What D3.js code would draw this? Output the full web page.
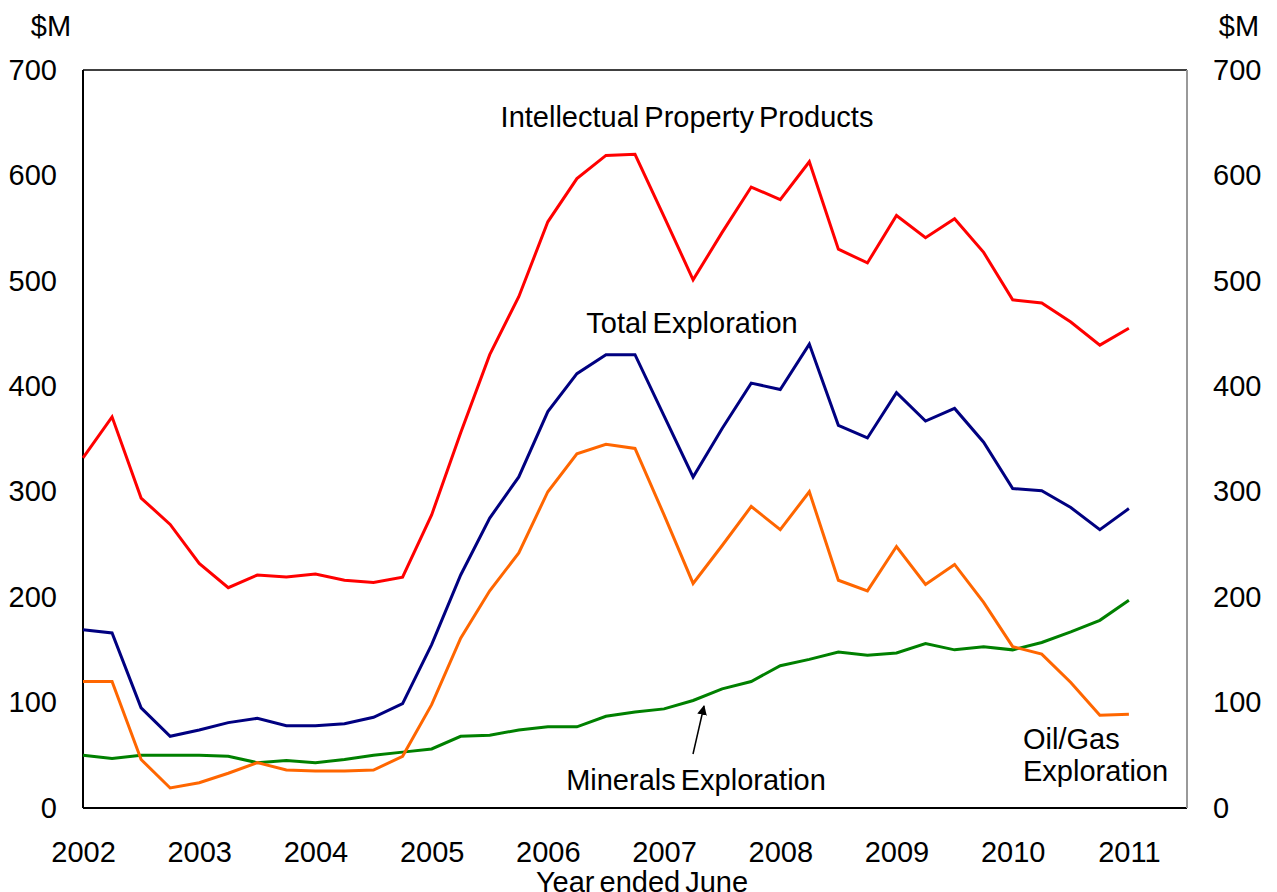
<!DOCTYPE html>
<html>
<head>
<meta charset="utf-8">
<script src="https://cdn.jsdelivr.net/npm/d3@7"></script>
<style>
  body { margin: 0; background: #fff; }
  svg text { font-family: "Liberation Sans", Arial, sans-serif; fill: #000; }
</style>
</head>
<body>
<div id="chart"></div>
<script>
// Quarterly, year ended June
var quarters = [
  "Jun 2002","Sep 2002","Dec 2002","Mar 2003",
  "Jun 2003","Sep 2003","Dec 2003","Mar 2004",
  "Jun 2004","Sep 2004","Dec 2004","Mar 2005",
  "Jun 2005","Sep 2005","Dec 2005","Mar 2006",
  "Jun 2006","Sep 2006","Dec 2006","Mar 2007",
  "Jun 2007","Sep 2007","Dec 2007","Mar 2008",
  "Jun 2008","Sep 2008","Dec 2008","Mar 2009",
  "Jun 2009","Sep 2009","Dec 2009","Mar 2010",
  "Jun 2010","Sep 2010","Dec 2010","Mar 2011",
  "Jun 2011"
];

var ipProducts = [332, 371, 294, 269, 232, 209, 221, 219, 222, 216, 214, 219,
  278, 356, 430, 485, 556, 597, 619, 620, 561, 501, 546, 589, 577, 613,
  530, 517, 562, 541, 559, 527, 482, 479, 461, 439, 455];

var totalExploration = [169, 166, 95, 68, 74, 81, 85, 78, 78, 80, 86, 99,
  155, 221, 275, 314, 376, 412, 430, 430, 372, 314, 360, 403, 397, 440,
  363, 351, 394, 367, 379, 347, 303, 301, 285, 264, 284];

var oilGasExploration = [120, 120, 46, 19, 24, 33, 43, 36, 35, 35, 36, 49,
  98, 161, 206, 242, 300, 336, 345, 341, 278, 213, 249, 286, 264, 300,
  216, 206, 248, 212, 231, 195, 153, 146, 119, 88, 89];

var mineralsExploration = [50, 47, 50, 50, 50, 49, 43, 45, 43, 46, 50, 53,
  56, 68, 69, 74, 77, 77, 87, 91, 94, 102, 113, 120, 135, 141,
  148, 145, 147, 156, 150, 153, 150, 157, 167, 178, 197];

var yTicks = [0, 100, 200, 300, 400, 500, 600, 700];
var xTickIndex = [0, 4, 8, 12, 16, 20, 24, 28, 32, 36];

var margin = { left: 83, right: 90, top: 70, bottom: 84 };
var width = 1277 - margin.left - margin.right,
    height = 892 - margin.top - margin.bottom;

var svg = d3.select("#chart").append("svg")
    .attr("width", 1277)
    .attr("height", 892)
  .append("g")
    .attr("transform", "translate(" + margin.left + "," + margin.top + ")");

var x = d3.scaleLinear().domain([0, 38]).range([0, width]);
var y = d3.scaleLinear().domain([0, 700]).range([height, 0]);

// axes (labels only, no tick marks)
svg.append("g")
    .call(d3.axisLeft(y).tickValues(yTicks).tickSize(0).tickPadding(26));
svg.append("g")
    .attr("transform", "translate(" + width + ",0)")
    .call(d3.axisRight(y).tickValues(yTicks).tickSize(0).tickPadding(26));
svg.append("g")
    .attr("transform", "translate(0," + height + ")")
    .call(d3.axisBottom(x).tickValues(xTickIndex).tickSize(0).tickPadding(33)
      .tickFormat(function(i){ return quarters[i].slice(-4); }));

svg.selectAll(".domain").remove();
svg.selectAll(".tick text").attr("font-size", "29px")
    .attr("font-family", "Liberation Sans, Arial, sans-serif");

// frame
svg.append("line").attr("x1", 0).attr("x2", width).attr("y1", 0).attr("y2", 0)
    .attr("stroke", "#000").attr("stroke-width", 1.5);
svg.append("line").attr("x1", 0).attr("x2", 0).attr("y1", 0).attr("y2", height)
    .attr("stroke", "#000").attr("stroke-width", 2);
svg.append("line").attr("x1", 0).attr("x2", width).attr("y1", height).attr("y2", height)
    .attr("stroke", "#000").attr("stroke-width", 2);
svg.append("line").attr("x1", width).attr("x2", width).attr("y1", 0).attr("y2", height)
    .attr("stroke", "#999").attr("stroke-width", 2);

// units
svg.append("text").attr("x", -32).attr("y", -34).attr("text-anchor", "middle")
    .attr("font-size", "29px").text("$M");
svg.append("text").attr("x", width + 52).attr("y", -34).attr("text-anchor", "middle")
    .attr("font-size", "29px").text("$M");

// lines
var line = d3.line()
    .x(function(d, i){ return x(i); })
    .y(function(d){ return y(d); });

var series = [
  { values: ipProducts, color: "#ff0000" },
  { values: totalExploration, color: "#000080" },
  { values: mineralsExploration, color: "#008000" },
  { values: oilGasExploration, color: "#ff6600" }
];

series.forEach(function(s){
  svg.append("path")
      .datum(s.values)
      .attr("fill", "none")
      .attr("stroke", s.color)
      .attr("stroke-width", 3)
      .attr("stroke-linejoin", "miter")
      .attr("d", line);
});

// labels
function label(txt, px, py, anchor){
  return svg.append("text")
      .attr("x", px - margin.left)
      .attr("y", py - margin.top)
      .attr("text-anchor", anchor || "middle")
      .attr("dy", "0.35em")
      .attr("font-size", "29px")
      .attr("word-spacing", "-3px")
      .text(txt);
}
label("Intellectual Property Products", 687, 117);
label("Total Exploration", 692, 323);
label("Minerals Exploration", 696, 780);
label("Oil/Gas", 1023, 739, "start");
label("Exploration", 1023, 771, "start");
label("Year ended June", 642, 882);

// arrow to minerals line
svg.append("defs").append("marker")
    .attr("id", "arrow")
    .attr("viewBox", "0 0 10 10")
    .attr("refX", 9).attr("refY", 5)
    .attr("markerWidth", 6.5).attr("markerHeight", 6.5)
    .attr("orient", "auto")
  .append("path")
    .attr("d", "M0,0 L10,5 L0,10 Z")
    .attr("fill", "#000");

svg.append("line")
    .attr("x1", 693 - margin.left).attr("y1", 754 - margin.top)
    .attr("x2", 704 - margin.left).attr("y2", 706 - margin.top)
    .attr("stroke", "#000").attr("stroke-width", 1.5)
    .attr("marker-end", "url(#arrow)");
</script>
</body>
</html>
